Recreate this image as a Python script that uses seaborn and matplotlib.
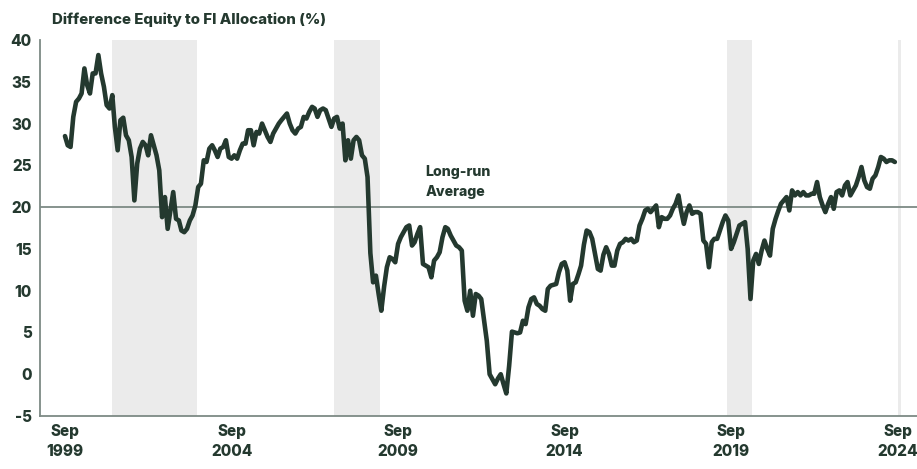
import pandas as pd
import numpy as np
import matplotlib
matplotlib.use('Agg')
import matplotlib.pyplot as plt
import seaborn as sns

# Monthly difference equity vs fixed income allocation (%), Sep 1999 - Aug 2024
values = [
    28.5, 27.4, 27.2, 30.8, 32.6, 33.0, 33.6, 36.6, 34.6, 33.6, 36.0, 36.0,
    38.2, 36.0, 34.4, 32.2, 31.8, 33.4, 29.6, 26.8, 30.4, 30.7, 28.6, 28.0,
    26.0, 20.8, 25.2, 27.0, 27.8, 27.4, 26.2, 28.6, 27.4, 26.2, 24.4, 18.8,
    21.2, 17.4, 19.6, 21.8, 18.6, 18.4, 17.2, 17.0, 17.4, 18.4, 19.0, 20.2,
    22.4, 22.8, 25.6, 25.4, 27.0, 27.4, 26.8, 26.0, 27.0, 27.2, 28.0, 26.0,
    25.8, 26.2, 25.8, 26.8, 27.6, 27.6, 29.2, 29.2, 27.4, 29.0, 28.8, 30.0,
    29.2, 28.4, 27.8, 28.8, 29.4, 30.0, 30.4, 30.8, 31.2, 30.0, 29.2, 28.8,
    29.4, 29.6, 30.8, 30.6, 31.4, 32.0, 31.8, 30.8, 31.6, 31.8, 31.6, 30.6,
    29.6, 30.6, 30.8, 29.4, 30.0, 25.6, 28.0, 25.8, 28.0, 28.4, 28.0, 26.2,
    25.8, 23.6, 14.5, 11.0, 11.8, 9.5, 7.6, 10.5, 12.8, 14.0, 13.8, 13.4,
    15.6, 16.4, 17.0, 17.6, 17.8, 15.4, 15.8, 16.8, 17.6, 13.2, 13.0, 12.8,
    11.6, 13.6, 14.0, 14.6, 16.4, 17.6, 17.4, 16.6, 16.0, 15.4, 15.2, 14.8,
    8.8, 7.6, 10.0, 7.0, 9.6, 9.4, 9.0, 6.5, 4.0, 0.0, -0.6, -1.2,
    -0.5, 0.0, -1.2, -2.3, 1.0, 5.1, 5.0, 4.9, 5.0, 6.4, 6.0, 8.0,
    9.0, 9.2, 8.4, 8.2, 7.8, 7.6, 10.2, 10.6, 10.7, 10.8, 12.2, 13.2,
    13.4, 12.4, 8.8, 10.8, 11.0, 12.0, 13.0, 15.5, 17.2, 17.0, 16.2, 14.4,
    12.6, 12.4, 14.3, 15.2, 14.4, 13.0, 13.0, 14.8, 15.6, 15.8, 16.2, 16.0,
    16.2, 15.8, 16.0, 17.8, 18.6, 19.6, 19.8, 19.4, 19.8, 20.2, 17.6, 18.8,
    18.6, 18.6, 19.0, 19.8, 20.4, 21.4, 19.6, 18.0, 19.4, 20.2, 19.2, 19.4,
    19.4, 19.2, 16.0, 15.6, 12.8, 15.8, 16.2, 16.2, 17.2, 18.2, 19.0, 18.4,
    15.0, 15.8, 16.8, 17.8, 18.0, 18.2, 15.0, 9.0, 13.6, 14.4, 13.2, 14.8,
    16.0, 15.0, 14.2, 17.4, 18.6, 19.6, 20.4, 20.8, 21.2, 19.6, 22.0, 21.4,
    21.8, 21.4, 21.8, 21.4, 21.4, 21.6, 21.6, 23.0, 21.2, 20.2, 19.4, 20.4,
    21.2, 19.8, 21.8, 22.0, 21.4, 22.6, 23.0, 21.4, 22.0, 22.6, 23.6, 24.8,
    23.2, 22.4, 22.2, 23.4, 23.8, 24.8, 26.0, 25.8, 25.4, 25.6, 25.6, 25.4,
]
start_month = '1999-09-01'

# shaded periods
band_starts = ['2001-02-01', '2007-10-01', '2019-07-15', '2024-09-01']
band_ends = ['2003-08-20', '2009-02-10', '2020-04-20', '2024-10-05']

long_run_avg = 20
tick_years = [1999, 2004, 2009, 2014, 2019, 2024]
yticks = [-5, 0, 5, 10, 15, 20, 25, 30, 35, 40]

df = pd.DataFrame({
    'date': pd.date_range(start_month, periods=len(values), freq='MS'),
    'value': values,
})

sns.set_style('white')
plt.rcParams['font.family'] = ['Inter', 'DejaVu Sans']

dark = '#24392f'
grey = '#7d8a85'
wt = 800

fig = plt.figure(figsize=(9.17, 4.69), dpi=100)
ax = fig.add_axes([40 / 917, 1 - 416 / 469, 1 - 40 / 917, (416 - 40) / 469])

for s, e in zip(band_starts, band_ends):
    ax.axvspan(pd.Timestamp(s), pd.Timestamp(e), color='#ebebeb', lw=0, zorder=0)

ax.axhline(long_run_avg, color=grey, lw=1.3, zorder=1)
sns.lineplot(data=df, x='date', y='value', color=dark, lw=3.3, ax=ax, zorder=3)

ax.text(pd.Timestamp('2010-07-01'), 23.0, 'Long-run\nAverage', fontsize=10.2,
        fontweight=wt, color=dark, va='center', ha='left', linespacing=1.5)

ax.set_xlim(pd.Timestamp('1998-12-01'), pd.Timestamp('2025-04-01'))
ax.set_ylim(-5, 40)
ax.set_yticks(yticks)
ax.set_yticklabels([str(v) for v in yticks])
ax.set_xticks([pd.Timestamp(f'{y}-09-01') for y in tick_years])
ax.set_xticklabels([f'Sep\n{y}' for y in tick_years], linespacing=1.4)
ax.set_xlabel('')
ax.set_ylabel('')

for lab in ax.get_xticklabels() + ax.get_yticklabels():
    lab.set_fontweight(wt)
    lab.set_fontsize(11)
    lab.set_color(dark)

ax.tick_params(axis='both', direction='in', length=5, width=1, color=grey)
ax.tick_params(axis='y', pad=6)
ax.tick_params(axis='x', pad=6)

sns.despine(ax=ax, top=True, right=True)
for side in ['left', 'bottom']:
    ax.spines[side].set_color(grey)
    ax.spines[side].set_linewidth(1.3)

fig.text(52 / 917, 1 - 20 / 469, 'Difference Equity to FI Allocation (%)',
         fontsize=10.8, fontweight=wt, color=dark, va='center', ha='left')

fig.savefig('out.png', dpi=100)
